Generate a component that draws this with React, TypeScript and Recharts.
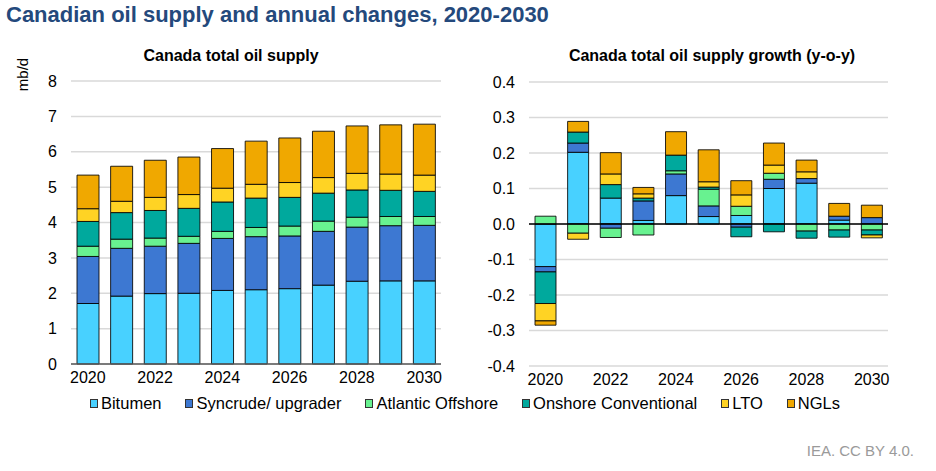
import React from 'react';
import { BarChart, Bar, XAxis, YAxis, CartesianGrid, ReferenceLine } from 'recharts';

const years = ['2020', '2021', '2022', '2023', '2024', '2025', '2026', '2027', '2028', '2029', '2030'];

// Canada total oil supply, mb/d
const bitumen = [1.71, 1.92, 1.99, 2.0, 2.08, 2.1, 2.13, 2.23, 2.34, 2.35, 2.35];
const syncrude = [1.33, 1.35, 1.34, 1.41, 1.47, 1.5, 1.49, 1.52, 1.53, 1.56, 1.57];
const atlantic = [0.29, 0.26, 0.23, 0.2, 0.2, 0.26, 0.28, 0.29, 0.28, 0.26, 0.25];
const onshore = [0.7, 0.75, 0.78, 0.79, 0.83, 0.83, 0.81, 0.79, 0.77, 0.74, 0.71];
const lto = [0.36, 0.32, 0.37, 0.39, 0.39, 0.39, 0.42, 0.44, 0.47, 0.46, 0.46];
const ngl = [0.95, 0.99, 1.05, 1.06, 1.12, 1.22, 1.26, 1.31, 1.34, 1.39, 1.44];

// y-o-y growth, mb/d
const bitumenG = [-0.12, 0.202, 0.073, 0.01, 0.08, 0.021, 0.024, 0.1, 0.115, 0.011, 0];
const syncrudeG = [-0.015, 0.026, -0.012, 0.055, 0.061, 0.03, -0.009, 0.026, 0.013, 0.011, 0.018];
const atlanticG = [0.022, -0.026, -0.026, -0.031, 0.009, 0.047, 0.026, 0.017, -0.02, -0.017, -0.017];
const onshoreG = [-0.089, 0.031, 0.038, 0.008, 0.044, 0.006, -0.027, -0.022, -0.02, -0.02, -0.014];
const ltoG = [-0.049, -0.017, 0.03, 0.012, 0, 0.015, 0.032, 0.023, 0.019, 0, -0.008];
const nglG = [-0.012, 0.03, 0.06, 0.018, 0.066, 0.09, 0.04, 0.062, 0.033, 0.036, 0.035];

const leftTicks = [0, 1, 2, 3, 4, 5, 6, 7, 8];
const rightTicks = [-0.4, -0.3, -0.2, -0.1, 0, 0.1, 0.2, 0.3, 0.4];

const series = [
  { key: 'bitumen', name: 'Bitumen', color: '#48D1FF' },
  { key: 'syncrude', name: 'Syncrude/ upgrader', color: '#3D78D2' },
  { key: 'atlantic', name: 'Atlantic Offshore', color: '#68F290' },
  { key: 'onshore', name: 'Onshore Conventional', color: '#00A99D' },
  { key: 'lto', name: 'LTO', color: '#FFD324' },
  { key: 'ngl', name: 'NGLs', color: '#F0A800' },
];

const supplyData = years.map((year, i) => ({
  year,
  bitumen: bitumen[i],
  syncrude: syncrude[i],
  atlantic: atlantic[i],
  onshore: onshore[i],
  lto: lto[i],
  ngl: ngl[i],
}));

const growthData = years.map((year, i) => ({
  year,
  bitumen: bitumenG[i],
  syncrude: syncrudeG[i],
  atlantic: atlanticG[i],
  onshore: onshoreG[i],
  lto: ltoG[i],
  ngl: nglG[i],
}));

const font = '"Liberation Sans", Arial, sans-serif';
const tick = { fontSize: 16, fill: '#000', fontFamily: font };

export default function App() {
  return (
    <div style={{ position: 'absolute', left: 0, top: 0, width: 936, height: 471, background: '#fff', fontFamily: font }}>
      <div style={{ position: 'absolute', left: 6, top: 2, fontSize: 22, fontWeight: 'bold', color: '#24497C', whiteSpace: 'nowrap' }}>
        Canadian oil supply and annual changes, 2020-2030
      </div>
      <div style={{ position: 'absolute', left: 0, width: 462, top: 47, textAlign: 'center', fontSize: 16, fontWeight: 'bold' }}>
        Canada total oil supply
      </div>
      <div style={{ position: 'absolute', left: 470, width: 484, top: 47, textAlign: 'center', fontSize: 16, fontWeight: 'bold' }}>
        Canada total oil supply growth (y-o-y)
      </div>
      <div style={{ position: 'absolute', left: 2, top: 66, fontSize: 15, transform: 'rotate(-90deg)', transformOrigin: 'center', width: 40, textAlign: 'center' }}>
        mb/d
      </div>

      <div style={{ position: 'absolute', left: 0, top: 0 }}>
        <BarChart width={470} height={400} data={supplyData} margin={{ top: 81, right: 29, bottom: 6, left: 0 }}>
          <CartesianGrid vertical={false} stroke="#D9D9D9" strokeWidth={1.5} />
          <XAxis dataKey="year" interval={1} tickLine={false} axisLine={{ stroke: '#595959', strokeWidth: 1.5 }} tick={tick} height={30} tickMargin={2} />
          <YAxis domain={[0, 8]} ticks={leftTicks} width={71} axisLine={false} tickLine={false} tick={tick} tickMargin={8} />
          {series.map(s => (
            <Bar key={s.key} dataKey={s.key} stackId="a" fill={s.color} stroke="#000" strokeOpacity={0.85} strokeWidth={1} barSize={22} isAnimationActive={false} />
          ))}
        </BarChart>
      </div>

      <div style={{ position: 'absolute', left: 470, top: 0 }}>
        <BarChart width={466} height={400} data={growthData} stackOffset="sign" margin={{ top: 82, right: 48, bottom: 4, left: 0 }}>
          <CartesianGrid vertical={false} stroke="#D9D9D9" strokeWidth={1.5} />
          <XAxis dataKey="year" interval={1} tickLine={false} axisLine={false} tick={tick} height={30} tickMargin={2} />
          <YAxis domain={[-0.4, 0.4]} ticks={rightTicks} width={59} axisLine={false} tickLine={false} tick={tick} tickMargin={8} tickFormatter={(v: number) => v.toFixed(1)} />
          {series.map(s => (
            <Bar key={s.key} dataKey={s.key} stackId="a" fill={s.color} stroke="#000" strokeOpacity={0.85} strokeWidth={1} barSize={21} isAnimationActive={false} />
          ))}
          <ReferenceLine y={0} stroke="#000" strokeWidth={1.5} />
        </BarChart>
      </div>

      <div style={{ position: 'absolute', left: 0, width: 930, top: 394, display: 'flex', justifyContent: 'center', fontSize: 16.5, whiteSpace: 'nowrap' }}>
        {series.map((s, i) => (
          <div key={s.key} style={{ display: 'flex', alignItems: 'center', marginLeft: i === 0 ? 0 : 24 }}>
            <span style={{ width: 6, height: 7, background: s.color, border: '1px solid #333', marginRight: 3 }} />
            <span>{s.name}</span>
          </div>
        ))}
      </div>

      <div style={{ position: 'absolute', right: 22, top: 442, fontSize: 15, color: '#9A9A9A' }}>
        IEA. CC BY 4.0.
      </div>
    </div>
  );
}
